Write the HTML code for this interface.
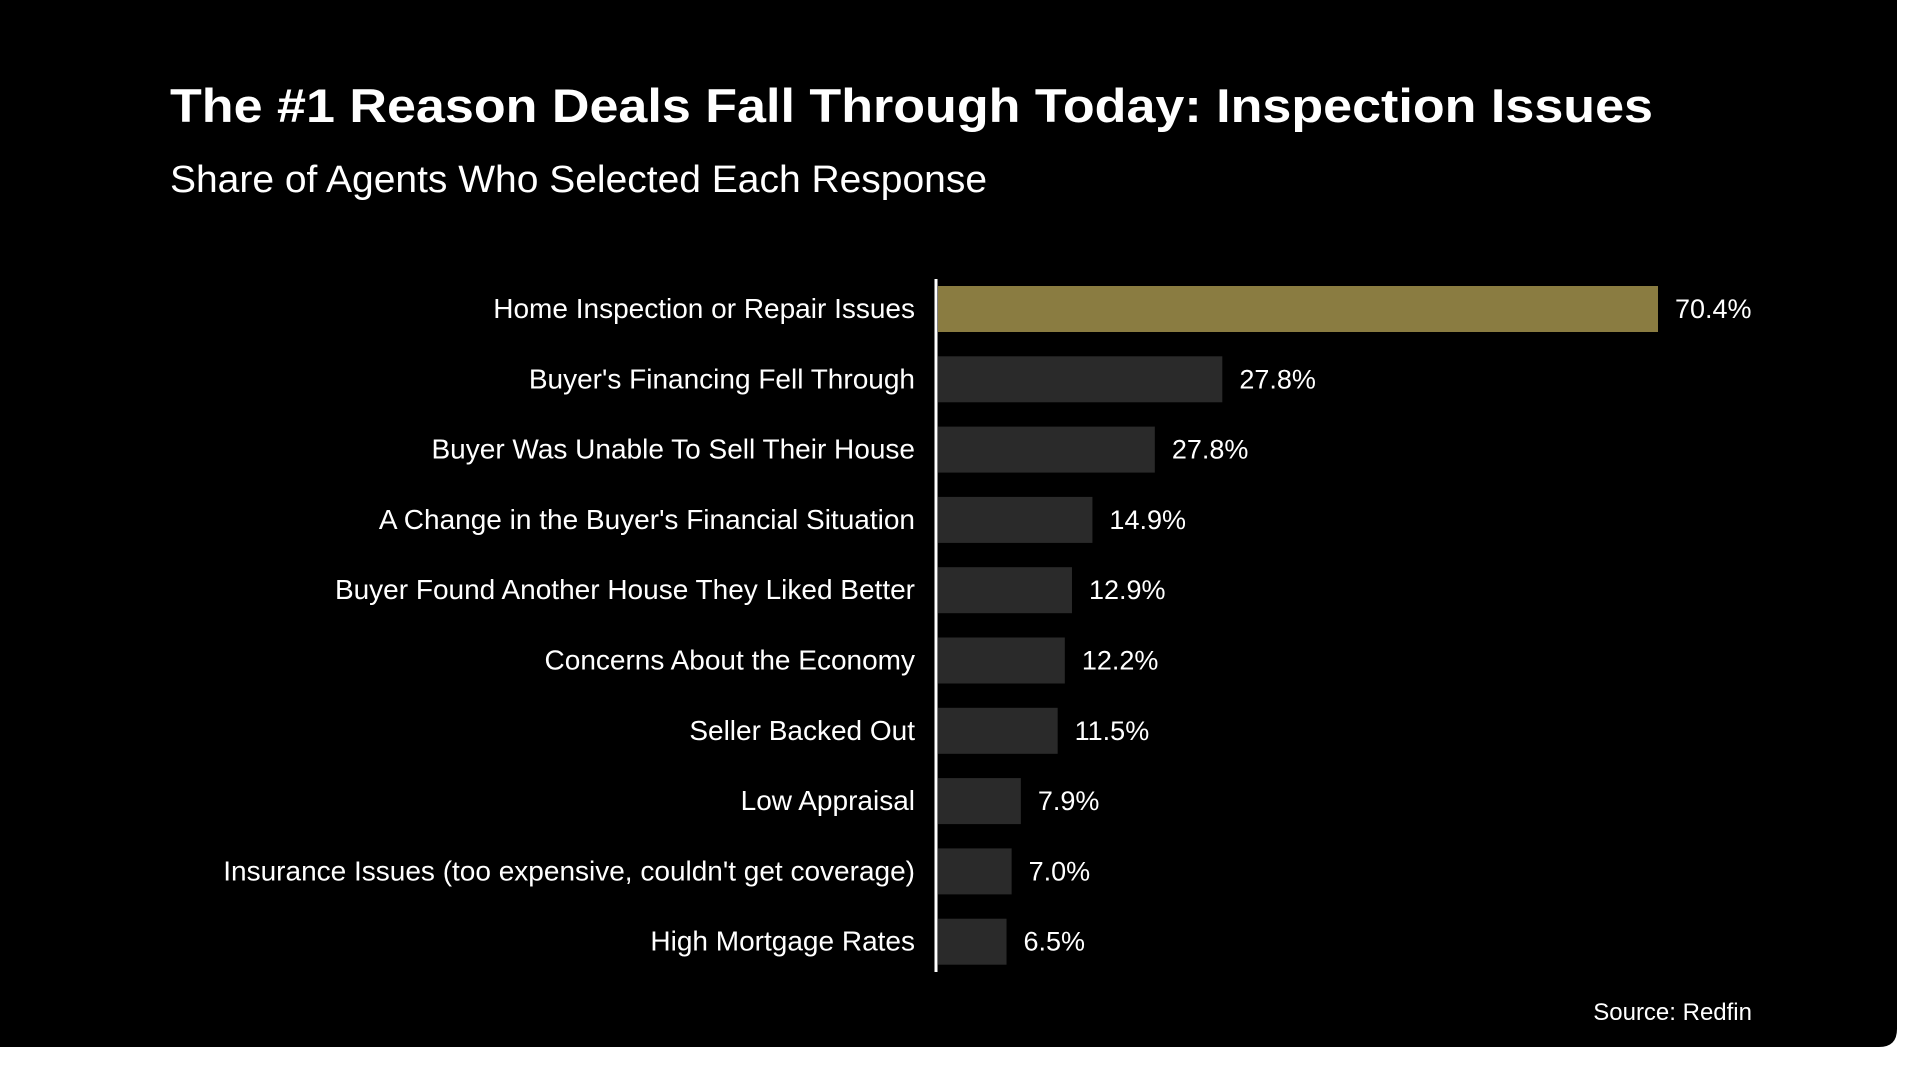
<!DOCTYPE html>
<html><head><meta charset="utf-8"><style>
html,body{margin:0;padding:0;background:#fff;width:1920px;height:1080px;overflow:hidden}
svg{display:block}
</style></head><body>
<svg id="chart" width="1920" height="1080" xmlns="http://www.w3.org/2000/svg" font-family="Liberation Sans, sans-serif">
<rect x="0" y="0" width="1920" height="1080" fill="#fff"/>
<path d="M0 0 H1897 V1029 Q1897 1047 1879 1047 H0 Z" fill="#000"/>
<text x="170" y="122" fill="#fff" font-size="47" font-weight="bold" textLength="1483" lengthAdjust="spacingAndGlyphs">The #1 Reason Deals Fall Through Today: Inspection Issues</text>
<text x="170" y="192" fill="#fff" font-size="38" textLength="817" lengthAdjust="spacingAndGlyphs">Share of Agents Who Selected Each Response</text>
<g id="bars"></g>
<line x1="936" y1="279" x2="936" y2="972" stroke="#fff" stroke-width="3"/>
<text x="1752" y="1020" fill="#fff" font-size="24" text-anchor="end">Source: Redfin</text>
</svg>
<script>
const categories = ["Home Inspection or Repair Issues","Buyer's Financing Fell Through","Buyer Was Unable To Sell Their House","A Change in the Buyer's Financial Situation","Buyer Found Another House They Liked Better","Concerns About the Economy","Seller Backed Out","Low Appraisal","Insurance Issues (too expensive, couldn't get coverage)","High Mortgage Rates"];
const values = [70.4, 27.8, 21.2, 15.1, 13.1, 12.4, 11.7, 8.1, 7.2, 6.7];
const valueLabels = ["70.4%","27.8%","27.8%","14.9%","12.9%","12.2%","11.5%","7.9%","7.0%","6.5%"];
const highlight = [true,false,false,false,false,false,false,false,false,false];

const NS = "http://www.w3.org/2000/svg";
const x0 = 938, pxPerUnit = 720/70.4;
const xScale = v => x0 + v*pxPerUnit;
const yFirst = 309, step = 70.3, barH = 46;
const yScale = i => yFirst + i*step;
const g = document.getElementById('bars');
categories.forEach((c,i)=>{
  const cy = yScale(i);
  const r = document.createElementNS(NS,'rect');
  
  
  r.setAttribute('x', x0);
  r.setAttribute('y', cy - barH/2);
  r.setAttribute('width', Math.max(0, xScale(values[i]) - x0));
  r.setAttribute('height', barH);
  r.setAttribute('fill', highlight[i] ? '#8a7c41' : '#2a2a2a');
  g.appendChild(r);
  const t = document.createElementNS(NS,'text');
  
  
  t.setAttribute('x', 915);
  t.setAttribute('y', cy + 9);
  t.setAttribute('fill', '#fff');
  t.setAttribute('font-size', '28');
  t.setAttribute('text-anchor', 'end');
  t.textContent = c;
  g.appendChild(t);
  const v = document.createElementNS(NS,'text');
  
  
  v.setAttribute('x', xScale(values[i]) + 17);
  v.setAttribute('y', cy + 9);
  v.setAttribute('fill', '#fff');
  v.setAttribute('font-size', '27');
  v.textContent = valueLabels[i];
  g.appendChild(v);
});
</script>
</body></html>
